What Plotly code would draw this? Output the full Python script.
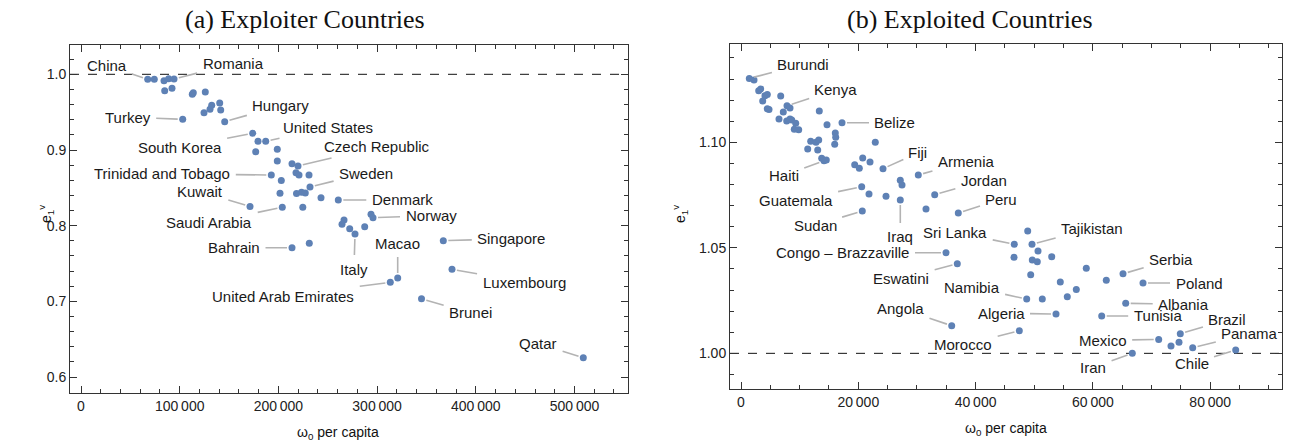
import plotly.graph_objects as go

# ---------------- data: (a) Exploiter countries ----------------
a_w0 = [67580, 74265, 84093, 88855, 94225, 84802, 92199, 112766, 113779, 125937,
        124620, 130699, 132421, 140527, 141540, 145593, 103040, 173961, 179331, 187133,
        177001, 198886, 198886, 213779, 219858, 217832, 220871, 231003, 192806, 202938,
        232016, 201621, 218338, 223404, 227254, 243161, 171226, 203951, 224721, 260689,
        293820, 295846, 266464, 264438, 272239, 277609, 287437, 213779, 231307, 313374,
        320871, 344985, 367072, 375887, 508916]
a_e = [0.9934, 0.9934, 0.9915, 0.9942, 0.9938, 0.9783, 0.9815, 0.9736, 0.9757, 0.9766,
       0.9493, 0.9538, 0.9590, 0.9621, 0.9528, 0.9374, 0.9406, 0.9221, 0.9115, 0.9115,
       0.8978, 0.9009, 0.8855, 0.8819, 0.8789, 0.8700, 0.8670, 0.8670, 0.8670, 0.8597,
       0.8511, 0.8428, 0.8425, 0.8441, 0.8432, 0.8370, 0.8254, 0.8243, 0.8244, 0.8340,
       0.8151, 0.8106, 0.8075, 0.8018, 0.7960, 0.7890, 0.7987, 0.7709, 0.7767, 0.7252,
       0.7309, 0.7034, 0.7802, 0.7424, 0.6256]
a_labels = {0: "China", 4: "Romania", 16: "Turkey", 15: "Hungary", 17: "South Korea",
            19: "United States", 24: "Czech Republic", 28: "Trinidad and Tobago",
            30: "Sweden", 36: "Kuwait", 37: "Saudi Arabia", 39: "Denmark", 41: "Norway",
            47: "Bahrain", 45: "Italy", 50: "Macao", 49: "United Arab Emirates",
            52: "Singapore", 53: "Luxembourg", 51: "Brunei", 54: "Qatar"}
a_xticks = [0, 100000, 200000, 300000, 400000, 500000]
a_xtext = ["0", "100\u2009000", "200\u2009000", "300\u2009000", "400\u2009000", "500\u2009000"]
a_yticks = [0.6, 0.7, 0.8, 0.9, 1.0]
a_ytext = ["0.6", "0.7", "0.8", "0.9", "1.0"]

# ---------------- data: (b) Exploited countries ----------------
b_w0 = [1415, 2217, 3018, 3359, 3700, 4092, 4484, 4484, 4774, 6769,
        7843, 8355, 7212, 6479, 7792, 8355, 8645, 9327, 9088, 9838,
        13350, 14663, 17221, 16078, 16147, 15976, 11884, 12788, 13248, 11373,
        13078, 13760, 14152, 14544, 22899, 20750, 19386, 20171, 21995, 24211,
        27161, 27451, 30230, 20580, 21824, 24723, 27161, 33027, 31543, 37050,
        20682, 34953, 36880, 35925, 48883, 46598, 49616, 50639, 46547, 49668,
        50520, 52976, 49395, 58875, 54442, 57170, 55635, 48713, 51373, 53708,
        47451, 62285, 65132, 68542, 65592, 61500, 71219, 73316, 74902, 74680,
        77016, 84348, 66718]
b_e = [1.1303, 1.1295, 1.1245, 1.1253, 1.1196, 1.1221, 1.1227, 1.1159, 1.1156, 1.1219,
       1.1173, 1.1163, 1.1144, 1.1110, 1.1101, 1.1110, 1.1106, 1.1090, 1.1062, 1.1060,
       1.1148, 1.1083, 1.1093, 1.1044, 1.1024, 1.0991, 1.1005, 1.1000, 1.1011, 1.0968,
       1.0964, 1.0924, 1.0913, 1.0916, 1.1000, 1.0926, 1.0894, 1.0877, 1.0907, 1.0875,
       1.0820, 1.0798, 1.0845, 1.0790, 1.0755, 1.0744, 1.0727, 1.0752, 1.0684, 1.0665,
       1.0674, 1.0477, 1.0425, 1.0131, 1.0580, 1.0517, 1.0517, 1.0485, 1.0455, 1.0442,
       1.0434, 1.0458, 1.0373, 1.0403, 1.0338, 1.0303, 1.0268, 1.0257, 1.0257, 1.0186,
       1.0107, 1.0346, 1.0377, 1.0333, 1.0237, 1.0177, 1.0066, 1.0035, 1.0093, 1.0052,
       1.0027, 1.0016, 1.0000]
b_labels = {0: "Burundi", 10: "Kenya", 22: "Belize", 32: "Haiti", 39: "Fiji",
            42: "Armenia", 47: "Jordan", 43: "Guatemala", 49: "Peru", 50: "Sudan",
            46: "Iraq", 55: "Sri Lanka", 56: "Tajikistan", 51: "Congo \u2013 Brazzaville",
            52: "Eswatini", 67: "Namibia", 72: "Serbia", 73: "Poland", 53: "Angola",
            69: "Algeria", 74: "Albania", 75: "Tunisia", 78: "Brazil", 70: "Morocco",
            76: "Mexico", 80: "Panama", 82: "Iran", 81: "Chile"}
b_xticks = [0, 20000, 40000, 60000, 80000]
b_xtext = ["0", "20\u2009000", "40\u2009000", "60\u2009000", "80\u2009000"]
b_yticks = [1.00, 1.05, 1.10]
b_ytext = ["1.00", "1.05", "1.10"]
parity = 1.0

# ---------------- label placement (pixel offsets of text from point) ----------------
a_off = {"China": (-41, -14), "Romania": (59, -15), "Turkey": (-55, -2), "Hungary": (56, -16),
         "South Korea": (-73, 14), "United States": (62, -14), "Czech Republic": (79, -19),
         "Trinidad and Tobago": (-109, -1), "Sweden": (56, -14), "Kuwait": (-50, -15),
         "Saudi Arabia": (-73, 15), "Denmark": (64, 0), "Norway": (58, -2), "Bahrain": (-58, 0),
         "Italy": (-1, 35), "Macao": (0, -35), "United Arab Emirates": (-107, 14),
         "Singapore": (68, -2), "Luxembourg": (72, 13), "Brunei": (49, 14), "Qatar": (-45, -14)}
b_off = {"Burundi": (54, -14), "Kenya": (49, -16), "Belize": (53, 0), "Haiti": (-40, 15),
         "Fiji": (35, -16), "Armenia": (48, -14), "Jordan": (49, -14), "Guatemala": (-66, 14),
         "Peru": (43, -14), "Sudan": (-47, 14), "Iraq": (0, 37), "Sri Lanka": (-59, -12),
         "Tajikistan": (60, -16), "Congo \u2013 Brazzaville": (-103, 0), "Eswatini": (-56, 15),
         "Namibia": (-55, -12), "Serbia": (48, -14), "Poland": (56, 0), "Angola": (-51, -17),
         "Algeria": (-55, -1), "Albania": (58, 1), "Tunisia": (56, 0), "Brazil": (47, -14),
         "Morocco": (-56, 14), "Mexico": (-56, 1), "Panama": (57, -14), "Iran": (-39, 14),
         "Chile": (-44, 14)}

W, H = 1289, 446
def fx(p):
    return p / W
def fy(p):
    return 1 - p / H

BLUE = "#5E81B5"
SANS = "Liberation Sans, Arial, sans-serif"
SERIF = "Liberation Serif, Times New Roman, serif"

fig = go.Figure()
fig.add_trace(go.Scatter(x=a_w0, y=a_e, mode="markers", xaxis="x", yaxis="y",
                         marker=dict(color=BLUE, size=7), showlegend=False, hoverinfo="skip"))
fig.add_trace(go.Scatter(x=b_w0, y=b_e, mode="markers", xaxis="x2", yaxis="y2",
                         marker=dict(color=BLUE, size=7), showlegend=False, hoverinfo="skip"))

axis_common = dict(showgrid=False, zeroline=False, showline=True, linecolor="#333",
                   linewidth=1, mirror="allticks", ticks="inside", ticklen=7,
                   tickcolor="#333", tickwidth=1, tickfont=dict(family=SANS, size=14, color="#222"))

fig.update_layout(
    width=W, height=H, margin=dict(l=0, r=0, t=0, b=0),
    plot_bgcolor="white", paper_bgcolor="white",
    xaxis=dict(domain=[fx(70), fx(628)], range=[-11145, 554205], anchor="y",
               tickmode="array", tickvals=a_xticks, ticktext=a_xtext,
               minor=dict(dtick=20000, tick0=0, ticks="inside", ticklen=4, tickcolor="#333"),
               **axis_common),
    yaxis=dict(domain=[fy(393), fy(45)], range=[0.579, 1.0387], anchor="x",
               tickmode="array", tickvals=a_yticks, ticktext=a_ytext,
               minor=dict(dtick=0.02, tick0=0.6, ticks="inside", ticklen=4, tickcolor="#333"),
               **axis_common),
    xaxis2=dict(domain=[fx(730), fx(1282)], range=[-1876, 92242], anchor="y2",
                tickmode="array", tickvals=b_xticks, ticktext=b_xtext,
                minor=dict(dtick=5000, tick0=0, ticks="inside", ticklen=4, tickcolor="#333"),
                **axis_common),
    yaxis2=dict(domain=[fy(389), fy(44)], range=[0.9831, 1.1466], anchor="x2",
                tickmode="array", tickvals=b_yticks, ticktext=b_ytext,
                minor=dict(dtick=0.01, tick0=1.0, ticks="inside", ticklen=4, tickcolor="#333"),
                **axis_common),
)

# parity dashed lines
for xr, yr in (("x domain", "y"), ("x2 domain", "y2")):
    fig.add_shape(type="line", xref=xr, yref=yr, x0=0, x1=1, y0=parity, y1=parity,
                  line=dict(color="#111", width=1, dash="dash"), layer="below")

anns = []
def callouts(xs, ys, labels, offs, xr, yr):
    for i, name in labels.items():
        ax, ay = offs[name]
        anns.append(dict(x=xs[i], y=ys[i], xref=xr, yref=yr, text=name, showarrow=True,
                         ax=ax, ay=ay, arrowhead=0, arrowwidth=1.6, arrowcolor="#b3b3b3",
                         standoff=5, startstandoff=4,
                         font=dict(family=SANS, size=15, color="#1a1a1a")))

callouts(a_w0, a_e, a_labels, a_off, "x", "y")
callouts(b_w0, b_e, b_labels, b_off, "x2", "y2")

def paper_text(x, y, text, size, family, angle=0):
    anns.append(dict(x=fx(x), y=fy(y), xref="paper", yref="paper", text=text,
                     showarrow=False, xanchor="center", yanchor="middle", textangle=angle,
                     font=dict(family=family, size=size, color="#111")))

# titles
paper_text(305, 19, "(a) Exploiter Countries", 26, SERIF)
paper_text(970, 19, "(b) Exploited Countries", 26, SERIF)
# axis titles
xt = "\u03c9<sub>0</sub> per capita"
paper_text(338, 433, xt, 14, SANS)
paper_text(1006, 429, xt, 14, SANS)
yt = "e<sub>1</sub><sup>v</sup>"
paper_text(46, 214, yt, 14, SANS, -90)
paper_text(680, 214, yt, 14, SANS, -90)

fig.update_layout(annotations=anns)
fig.write_html("out.html")
